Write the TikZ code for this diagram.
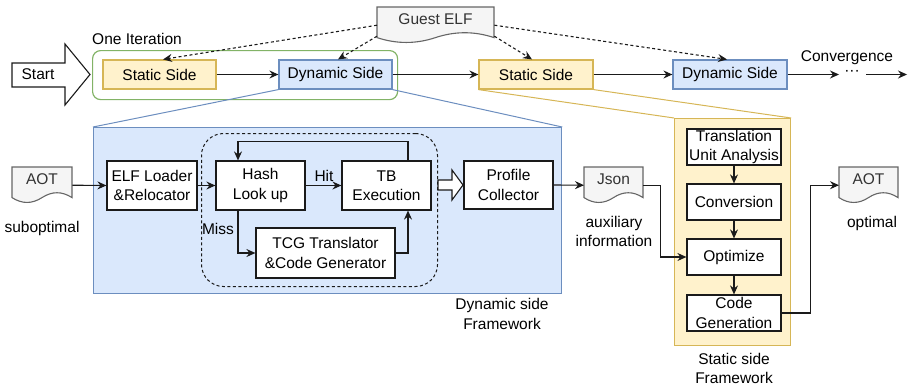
\documentclass[tikz,border=0pt]{standalone}
\usepackage{fontspec}
\setmainfont{Liberation Sans}
\usetikzlibrary{arrows.meta,calc}

\definecolor{blueFill}{HTML}{DAE8FC}
\definecolor{blueLine}{HTML}{6C8EBF}
\definecolor{yelFill}{HTML}{FFF2CC}
\definecolor{yelLine}{HTML}{D6B656}
\definecolor{grnLine}{HTML}{82B366}
\definecolor{docFill}{HTML}{F5F5F5}
\definecolor{docLine}{HTML}{666666}
\definecolor{docText}{HTML}{333333}
\definecolor{edge}{HTML}{1A1A1A}

\newcommand\fs{\fontsize{15.5}{19.5}\selectfont}

\tikzset{
  lbl/.style={font=\fs, inner sep=0pt, align=center},
  box/.style={draw=edge, fill=white, line width=1.2pt, inner sep=0pt, align=center, font=\fs},
  staticbox/.style={box, fill=yelFill, draw=yelLine, minimum width=113pt, minimum height=29pt},
  dynbox/.style={box, fill=blueFill, draw=blueLine, minimum width=113pt, minimum height=29pt},
  region/.style={inner sep=0pt, anchor=north west, line width=1.2pt},
  arr/.style={draw=edge, line width=1.1pt, -{Stealth[length=9pt,width=8pt,inset=3pt]}},
  dasharr/.style={arr, dash pattern=on 3pt off 2.5pt},
  docnode/.style={draw=none, inner sep=0pt, anchor=north west},
  docline/.style={draw=docLine, fill=docFill, line width=1.1pt},
  doctext/.style={lbl, text=docText},
  hollow/.style={draw=edge, fill=white, line width=1.1pt, line join=miter},
}

% document shape with a wavy lower edge: name, x, y, w, h, text
\newcommand\wavedoc[6]{%
  \node[docnode, minimum width=#4pt, minimum height=#5pt] (#1) at (#2,#3) {};
  \draw[docline] (#2,#3) -- ({#2+#4},#3) -- ({#2+#4},{#3+0.85*#5})
    .. controls ({#2+5*#4/6},{#3+0.67*#5}) and ({#2+2*#4/3},{#3+0.67*#5}) .. ({#2+#4/2},{#3+0.85*#5})
    .. controls ({#2+#4/3},{#3+1.03*#5}) and ({#2+#4/6},{#3+1.03*#5}) .. (#2,{#3+0.85*#5}) -- cycle;
  \node[doctext] (#1-t) at ({#2+#4/2},{#3+12.5}) {#6};
}

\begin{document}
\begin{tikzpicture}[x=1pt,y=-1pt]
\useasboundingbox (0,0) rectangle (910,388);

% ---- large framework regions ----
\node[region, draw=blueLine, fill=blueFill, minimum width=468pt, minimum height=166pt] (dynfw) at (93,127) {};
\node[region, draw=yelLine, fill=yelFill, minimum width=116pt, minimum height=227pt] (stfw) at (674,118) {};

% ---- top row ----
\node[region, draw=grnLine, rounded corners=8pt, minimum width=305pt, minimum height=49pt] (iter) at (92,50) {};
\node[lbl, anchor=west] (iterlbl) at (92,39) {One Iteration};

\draw[hollow] (12,63) -- (65,63) -- (65,44) -- (90,74.5) -- (65,105) -- (65,87) -- (12,87) -- cycle;
\node[lbl] (start) at (38,74.5) {Start};

\node[staticbox] (st1) at (159.5,74.5) {Static Side};
\node[dynbox]    (dy1) at (335.5,74.5) {Dynamic Side};
\node[staticbox, minimum width=114pt] (st2) at (536,74.5) {Static Side};
\node[dynbox, minimum width=114pt]    (dy2) at (730,74.5) {Dynamic Side};

\wavedoc{gelf}{377}{7}{117}{36}{Guest ELF}

\coordinate (c1) at (839,74.5);
\node[lbl] (dots) at (852,73) {···};
\coordinate (c2) at (866,74.5);
\coordinate (c3) at (907,74.5);
\node[lbl] (conv-lbl) at (847,58) {Convergence};

\draw[arr] (st1) -- (dy1);
\draw[arr] (dy1) -- (st2);
\draw[arr] (st2) -- (dy2);
\draw[arr] (dy2.east) -- (c1);
\draw[arr] (c2) -- (c3);

\draw[dasharr] (gelf.west) -- ([xshift=3.5pt]st1.north);
\draw[dasharr] ([yshift=-11pt]gelf.west) -- ([xshift=2.5pt]dy1.north);
\draw[dasharr] (gelf.east) -- ([xshift=-3pt]dy2.north);
\draw[dasharr] ([yshift=-11pt]gelf.east) -- ([xshift=-4pt]st2.north);

% zoom lines from the top row into the frameworks
\draw[blueLine, line width=1pt] (dy1.south west) -- (dynfw.north west);
\draw[blueLine, line width=1pt] (dy1.south east) -- (dynfw.north east);
\draw[yelLine, line width=1pt] (st2.south west) -- (stfw.north west);
\draw[yelLine, line width=1pt] (st2.south east) -- (stfw.north east);

% ---- dynamic side framework ----
\node[region, draw=edge, line width=1pt, dash pattern=on 3pt off 2.5pt, rounded corners=22pt, minimum width=236pt, minimum height=153pt] (loop) at (201,133) {};

\wavedoc{aot1}{12}{167}{60}{36}{AOT}
\node[lbl] (subopt) at (42,228) {suboptimal};

\node[box, minimum width=90pt, minimum height=49pt] (elf) at (152,185.5) {ELF Loader\\\&Relocator};
\node[box, minimum width=89pt, minimum height=49pt] (hash) at (260.5,185.5) {Hash\\Look up};
\node[box, minimum width=89pt, minimum height=49pt] (tb) at (386.5,185.5) {TB\\Execution};
\node[box, minimum width=139pt, minimum height=50pt] (tcg) at (325.5,253) {TCG Translator\\\&Code Generator};
\node[box, minimum width=89pt, minimum height=48pt] (prof) at (508.5,185) {Profile\\Collector};

\draw[arr] (aot1.east) -- (elf.west);
\draw[arr] (elf) -- (hash);
\draw[arr] (hash) -- (tb);
\node[lbl] (hit) at (324,176) {Hit};
\draw[arr] ([xshift=21.5pt]tb.north) -- ++(0,-19) -| ([xshift=-22.5pt]hash.north);
\draw[arr] ([xshift=-22.5pt]hash.south) |- (tcg.west);
\node[lbl] (miss) at (218,229) {Miss};
\draw[arr] (tcg.east) -| ([xshift=21.5pt]tb.south);

\draw[hollow] (438,180) -- (452,180) -- (452,170) -- (463,185) -- (452,200) -- (452,190) -- (438,190) -- cycle;

\node[lbl] (dynlbl) at (502,314) {Dynamic side\\Framework};

% ---- profile output ----
\wavedoc{json}{584}{167}{59}{36}{Json}
\node[lbl] (aux) at (614,231.5) {auxiliary\\information};
\draw[arr] (prof.east) -- (json.west);

% ---- static side framework ----
\node[box, minimum width=94pt, minimum height=36pt] (tua) at (734,147) {Translation\\Unit Analysis};
\node[box, minimum width=94pt, minimum height=36pt] (conv) at (734,202) {Conversion};
\node[box, minimum width=94pt, minimum height=36pt] (opt) at (734,257) {Optimize};
\node[box, minimum width=94pt, minimum height=36pt] (cg) at (734,313) {Code\\Generation};
\node[lbl] (stlbl) at (734,368.5) {Static side\\Framework};

\draw[arr] (tua) -- (conv);
\draw[arr] (conv) -- (opt);
\draw[arr] (opt) -- (cg);
\draw[arr] (json.east) -- ++(17,0) |- (opt.west);

\wavedoc{aot2}{839}{167}{59}{36}{AOT}
\node[lbl] (opt-lbl) at (872,223) {optimal};
\draw[arr] (cg.east) -- ++(29,0) |- (aot2.west);
\end{tikzpicture}
\end{document}
